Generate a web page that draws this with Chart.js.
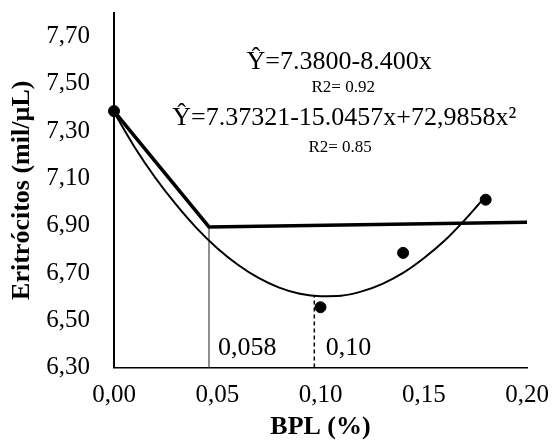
<!DOCTYPE html>
<html>
<head>
<meta charset="utf-8">
<script src="https://cdn.jsdelivr.net/npm/chart.js@4/dist/chart.umd.min.js"></script>
<style>
  html, body { margin: 0; padding: 0; background: #ffffff; }
  #wrap { width: 555px; height: 445px; }
</style>
</head>
<body>
<div id="wrap"><canvas id="c" width="555" height="445"></canvas></div>
<script>
// ---- data ----
const doses = [0.00, 0.10, 0.14, 0.18];
const eritrocitos = [7.385, 6.555, 6.785, 7.010];

// broken-line (linear plateau) fit
const plateauX = [0.000, 0.046, 0.200];
const plateauY = [7.385, 6.895, 6.915];

// quadratic fit curve
const curveX = [0.00, 0.01, 0.02, 0.03, 0.04, 0.05, 0.06, 0.07, 0.08, 0.09, 0.10, 0.11, 0.12, 0.13, 0.14, 0.15, 0.16, 0.17, 0.18];
const curveY = [7.380, 7.232, 7.103, 6.990, 6.890, 6.805, 6.735, 6.679, 6.638, 6.612, 6.602, 6.604, 6.622, 6.654, 6.700, 6.762, 6.836, 6.926, 7.025];

// reference (drop) lines
const breakLineX = [0.046, 0.046];
const breakLineY = [6.30, 6.895];
const minLineX = [0.097, 0.097];
const minLineY = [6.30, 6.605];

// axes
const xTicks = [0.00, 0.05, 0.10, 0.15, 0.20];
const yTicks = [6.30, 6.50, 6.70, 6.90, 7.10, 7.30, 7.50, 7.70];

// texts
const eq1 = "Ŷ=7.3800-8.400x";
const r2a = "R2= 0.92";
const eq2 = "Ŷ=7.37321-15.0457x+72,9858x²";
const r2b = "R2= 0.85";
const lblBreak = "0,058";
const lblMin = "0,10";

const pts = (xs, ys) => xs.map((x, i) => ({x: x, y: ys[i]}));
const fmt = v => v.toFixed(2).replace('.', ',');
const SERIF = "'Liberation Serif', 'Times New Roman', serif";

const textPlugin = {
  id: 'texts',
  afterDatasetsDraw(chart) {
    const {ctx, scales: {x, y}} = chart;
    ctx.save();
    ctx.fillStyle = '#000';
    ctx.textAlign = 'center';
    ctx.textBaseline = 'middle';
    const put = (t, vx, vy, size) => {
      ctx.font = size + 'px ' + SERIF;
      ctx.fillText(t, x.getPixelForValue(vx), y.getPixelForValue(vy));
    };
    put(eq1, 0.109, 7.590, 26);
    put(r2a, 0.111, 7.485, 17);
    put(eq2, 0.1115, 7.355, 26);
    put(r2b, 0.1095, 7.232, 17);
    put(lblBreak, 0.0645, 6.382, 26);
    put(lblMin, 0.1135, 6.382, 26);
    ctx.restore();
  }
};

const zeroPad = s => { s.paddingTop = 0; s.paddingBottom = 0; s.paddingLeft = 0; s.paddingRight = 0; };

new Chart(document.getElementById('c'), {
  type: 'scatter',
  data: {
    datasets: [
      {
        label: 'obs', data: pts(doses, eritrocitos), order: 0,
        pointRadius: 5.5, pointBackgroundColor: '#000', pointBorderColor: '#000',
        showLine: false, clip: false
      },
      {
        label: 'plateau', data: pts(plateauX, plateauY), order: 2,
        showLine: true, borderColor: '#000', borderWidth: 3.5, pointRadius: 0, clip: false
      },
      {
        label: 'quad', data: pts(curveX, curveY), order: 1,
        showLine: true, borderColor: '#000', borderWidth: 2, pointRadius: 0,
        cubicInterpolationMode: 'monotone', clip: false
      },
      {
        label: 'break', data: pts(breakLineX, breakLineY), order: 3,
        showLine: true, borderColor: '#444', borderWidth: 1.2, pointRadius: 0, clip: false
      },
      {
        label: 'min', data: pts(minLineX, minLineY), order: 3,
        showLine: true, borderColor: '#000', borderWidth: 1.5, borderDash: [4, 3], pointRadius: 0, clip: false
      }
    ]
  },
  options: {
    responsive: false,
    animation: false,
    devicePixelRatio: 1,
    layout: { padding: { top: 13, right: 28, left: 0, bottom: 0 } },
    plugins: { legend: { display: false }, tooltip: { enabled: false } },
    scales: {
      x: {
        type: 'linear', min: 0, max: 0.20,
        afterBuildTicks: s => { s.ticks = xTicks.map(v => ({value: v})); },
        afterFit: s => { s.height = 77.5; zeroPad(s); },
        grid: { display: false, drawTicks: false },
        border: { display: true, color: '#000', width: 1.5 },
        ticks: { color: '#000', padding: 13, maxRotation: 0, autoSkip: false,
                 font: { family: SERIF, size: 25 }, callback: v => fmt(v) },
        title: { display: true, text: 'BPL (%)', color: '#000',
                 font: { family: SERIF, size: 26, weight: 'bold' }, padding: { top: 0, bottom: 2 } }
      },
      y: {
        type: 'linear', min: 6.30, max: 7.80,
        afterBuildTicks: s => { s.ticks = yTicks.map(v => ({value: v})); },
        afterFit: s => { s.width = 114; zeroPad(s); },
        grid: { display: false, drawTicks: false },
        border: { display: true, color: '#000', width: 2 },
        ticks: { color: '#000', padding: 24, autoSkip: false,
                 font: { family: SERIF, size: 25 }, callback: v => fmt(v) },
        title: { display: true, text: 'Eritrócitos (mil/µL)', color: '#000',
                 font: { family: SERIF, size: 26, weight: 'bold' }, padding: { top: 7, bottom: 0 } }
      }
    }
  },
  plugins: [textPlugin]
});
</script>
</body>
</html>
